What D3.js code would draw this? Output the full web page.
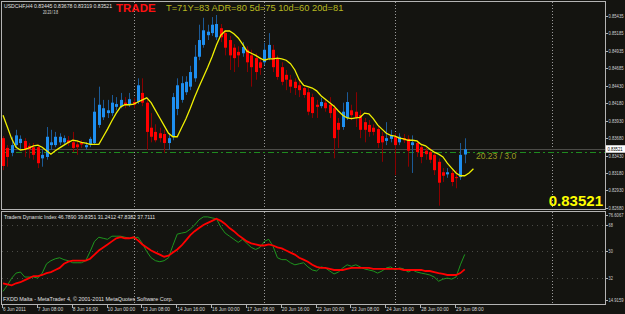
<!DOCTYPE html>
<html>
<head>
<meta charset="utf-8">
<script src="https://cdn.jsdelivr.net/npm/d3@7"></script>
<style>
  body { margin: 0; background: #141410; }
  svg { display: block; }
  text { font-family: "Liberation Sans", Arial, sans-serif; }
  text.small { font-family: "Liberation Sans Narrow", "Arial Narrow", "Liberation Sans", sans-serif; }
</style>
</head>
<body>
<svg width="625" height="314"></svg>
<script>
// USDCHF H4 candles, bar 0 = 6 Jun 2011 00:00
const opens = [0.8368,0.8354,0.8347,0.8358,0.8361,0.8364,0.8357,0.8355,0.8355,0.8339,
  0.8341,0.8358,0.8358,0.8362,0.8362,0.8365,0.8362,0.8359,0.8361,0.8355,
  0.8359,0.8361,0.8387,0.8398,0.8404,0.8404,0.8413,0.8414,0.8419,0.8417,
  0.8420,0.8420,0.8433,0.8419,0.8383,0.8377,0.8375,0.8374,0.8361,0.8370,
  0.8410,0.8423,0.8434,0.8442,0.8454,0.8485,0.8502,0.8516,0.8519,0.8513,
  0.8526,0.8519,0.8509,0.8498,0.8492,0.8490,0.8495,0.8487,0.8483,0.8477,
  0.8477,0.8483,0.8495,0.8483,0.8470,0.8459,0.8452,0.8449,0.8444,0.8440,
  0.8434,0.8427,0.8416,0.8414,0.8419,0.8416,0.8411,0.8390,0.8384,0.8397,
  0.8408,0.8406,0.8401,0.8391,0.8387,0.8383,0.8381,0.8371,0.8364,0.8367,
  0.8370,0.8362,0.8368,0.8367,0.8358,0.8361,0.8355,0.8350,0.8348,0.8344,
  0.8334,0.8319,0.8316,0.8318,0.8312,0.8312,0.83445];
const highs = [0.8371,0.8358,0.8370,0.8380,0.8372,0.8368,0.8361,0.8361,0.8359,0.8351,
  0.8384,0.8380,0.8377,0.8375,0.8372,0.8371,0.8377,0.8365,0.8365,0.8362,
  0.8370,0.8426,0.8442,0.8423,0.8423,0.8430,0.8427,0.8433,0.8427,0.8433,
  0.8426,0.8454,0.8454,0.8423,0.8404,0.8388,0.8383,0.8380,0.8375,0.8433,
  0.8454,0.8457,0.8457,0.8472,0.8502,0.8531,0.8541,0.8531,0.8542,0.8545,
  0.8532,0.8523,0.8515,0.8503,0.8500,0.8506,0.8500,0.8495,0.8490,0.8485,
  0.8505,0.8519,0.8502,0.8487,0.8477,0.8466,0.8459,0.8454,0.8452,0.8444,
  0.8440,0.8432,0.8423,0.8426,0.8423,0.8427,0.8416,0.8397,0.8419,0.8434,
  0.8416,0.8434,0.8408,0.8397,0.8394,0.8388,0.8386,0.8377,0.8391,0.8380,
  0.8375,0.8375,0.8374,0.8372,0.8372,0.8365,0.8359,0.8354,0.8354,0.8348,
  0.8339,0.8325,0.8325,0.8322,0.8322,0.8361,0.83678];
const lows = [0.8322,0.8327,0.8342,0.8354,0.8351,0.8341,0.8339,0.8337,0.8325,0.8327,
  0.8337,0.8351,0.8355,0.8358,0.8359,0.8357,0.8348,0.8344,0.8354,0.8351,
  0.8355,0.8358,0.8383,0.8394,0.8397,0.8400,0.8408,0.8411,0.8411,0.8413,
  0.8411,0.8417,0.8414,0.8351,0.8362,0.8362,0.8362,0.8347,0.8351,0.8365,
  0.8401,0.8419,0.8430,0.8437,0.8449,0.8480,0.8498,0.8509,0.8515,0.8509,
  0.8506,0.8487,0.8466,0.8463,0.8470,0.8485,0.8463,0.8442,0.8452,0.8459,
  0.8473,0.8480,0.8463,0.8452,0.8444,0.8437,0.8433,0.8430,0.8427,0.8426,
  0.8401,0.8397,0.8397,0.8411,0.8406,0.8397,0.8339,0.8354,0.8380,0.8394,
  0.8394,0.8384,0.8368,0.8362,0.8370,0.8372,0.8354,0.8334,0.8358,0.8362,
  0.8315,0.8358,0.8361,0.8327,0.8318,0.8341,0.8332,0.8337,0.8332,0.8315,
  0.8271,0.8305,0.8311,0.8299,0.8296,0.8308,0.83319];
const closes = [0.8328,0.8341,0.8358,0.8372,0.8367,0.8351,0.8352,0.8344,0.8332,0.8344,
  0.8370,0.8362,0.8370,0.8370,0.8368,0.8361,0.8354,0.8355,0.8359,0.8358,
  0.8367,0.8406,0.8416,0.8411,0.8408,0.8419,0.8417,0.8423,0.8416,0.8424,
  0.8416,0.8444,0.8419,0.8377,0.8370,0.8365,0.8368,0.8361,0.8368,0.8427,
  0.8444,0.8447,0.8449,0.8463,0.8485,0.8509,0.8523,0.8521,0.8531,0.8532,
  0.8513,0.8498,0.8487,0.8483,0.8487,0.8499,0.8477,0.8470,0.8463,0.8469,
  0.8495,0.8502,0.8470,0.8456,0.8449,0.8452,0.8442,0.8440,0.8437,0.8430,
  0.8406,0.8404,0.8413,0.8420,0.8411,0.8404,0.8368,0.8380,0.8406,0.8420,
  0.8401,0.8398,0.8380,0.8380,0.8377,0.8377,0.8361,0.8362,0.8368,0.8372,
  0.8358,0.8370,0.8365,0.8350,0.8362,0.8348,0.8341,0.8345,0.8337,0.8322,
  0.8304,0.8314,0.8319,0.8305,0.8311,0.8344,0.83521];

// yellow moving average, drawn 2 bars ahead (109 points)
const maLine = [0.8401,0.8384,0.8367,0.8355,0.8351,0.8352,0.8354,0.8357,0.8358,0.8355,
  0.8350,0.8345,0.8350,0.8354,0.8358,0.8362,0.8365,0.8364,0.8362,0.8361,
  0.8359,0.8359,0.8359,0.8370,0.8381,0.8393,0.8404,0.8413,0.8416,0.8416,
  0.8417,0.8420,0.8423,0.8426,0.8419,0.8408,0.8397,0.8386,0.8375,0.8370,
  0.8370,0.8383,0.8396,0.8411,0.8427,0.8442,0.8456,0.8470,0.8485,0.8502,
  0.8516,0.8522,0.8522,0.8518,0.8512,0.8503,0.8493,0.8490,0.8487,0.8483,
  0.8480,0.8482,0.8482,0.8483,0.8482,0.8480,0.8475,0.8466,0.8452,0.8444,
  0.8442,0.8440,0.8436,0.8429,0.8424,0.8419,0.8414,0.8407,0.8401,0.8397,
  0.8396,0.8397,0.8398,0.8404,0.8403,0.8396,0.8387,0.8381,0.8375,0.8372,
  0.8371,0.8368,0.8367,0.8365,0.8365,0.8364,0.8359,0.8357,0.8352,0.8348,
  0.8345,0.8341,0.8332,0.8325,0.8318,0.8314,0.8314,0.8318,0.8324];

// Traders Dynamic Index: RSI price line (green) and trade signal line (red)
const tdiGreen = [22.8,26.9,31.8,35.2,35.9,32.5,32.5,32.5,31.8,35.2,
  41.5,43.6,44.9,45.6,44.3,43.6,42.2,42.2,42.2,43.6,
  49.8,56.7,59.5,58.8,58.1,60.2,60.2,60.2,59.5,58.8,
  58.8,59.5,55.3,49.8,45.6,43.6,42.9,43.6,45.6,53.9,
  61.6,62.3,62.9,65.0,67.8,71.3,73.3,73.3,72.6,72.0,
  66.4,62.3,60.2,58.1,56.0,58.1,55.3,52.6,51.2,52.6,
  56.7,58.1,53.3,45.6,44.3,44.3,42.2,40.8,41.5,42.2,
  39.4,37.3,36.6,39.4,38.7,36.6,34.6,35.9,38.7,40.8,
  39.8,40.8,39.4,38.0,37.3,36.6,35.2,36.6,38.7,39.4,
  37.3,38.7,38.0,35.9,37.3,35.9,35.2,34.6,33.9,32.5,
  29.7,31.1,31.8,31.1,32.5,40.8,47.8382];
const tdiRed = [28.3,27.6,26.9,28.3,29.0,30.4,31.8,33.2,33.2,33.9,
  35.2,35.9,37.3,38.7,41.5,42.9,43.6,43.6,43.6,43.6,
  44.9,47.7,50.5,52.6,54.6,56.7,58.8,59.5,58.8,58.8,
  59.5,57.4,54.6,52.6,50.5,49.1,47.7,46.3,47.0,49.1,
  51.2,53.9,57.4,60.9,63.6,65.7,67.8,69.2,70.6,72.0,
  70.6,68.5,65.7,63.6,60.9,58.8,56.7,55.3,54.6,53.9,
  53.9,54.6,53.9,52.6,51.9,50.5,49.1,47.7,45.6,44.3,
  42.9,40.8,39.4,38.7,38.7,38.0,37.3,37.3,37.3,38.0,
  38.7,38.7,38.7,38.7,38.7,38.0,38.0,38.0,38.0,38.0,
  38.0,38.0,37.3,37.3,37.3,37.3,37.3,36.6,36.6,35.9,
  35.2,34.6,33.9,33.9,33.9,35.2,37.7111];

const priceTicks = [0.85435,0.85185,0.84935,0.84685,0.84430,0.84180,0.83930,0.83680,0.83430,0.83180,0.82930,0.82680];
const tdiTicks = [76.6067,68,50,32,14.9159];
const tdiLevels = [68,50,32];
const timeLabels = ["6 Jun 2011","7 Jun 08:00","8 Jun 16:00","10 Jun 00:00","13 Jun 08:00","14 Jun 16:00","16 Jun 00:00",
  "17 Jun 08:00","20 Jun 16:00","22 Jun 00:00","23 Jun 08:00","24 Jun 16:00","28 Jun 00:00","29 Jun 08:00"];
const timeBars = [0,8,16,24,32,40,48,56,64,72,80,88,96,104];
const weekBars = [30,60,90,126];   // week separators (last one is in the empty future area)
const bid = 0.83521;
const hLine = 0.83485;             // green dash-dot line object

const svg = d3.select('svg');
const width = +svg.attr('width');
const height = +svg.attr('height');
const frame = { left: 1.5, right: 605.5, top: 1.5, mainBottom: 209.5, subTop: 211.5, subBottom: 304.5 };

const xScale = d3.scaleLinear().domain([0, 140]).range([3, 3 + 140 * 4.356]);
const yScale = d3.scaleLinear().domain([0.82662, 0.85651]).range([209, 1]);
const tScale = d3.scaleLinear().domain([14.9159, 76.6067]).range([303, 212]);

svg.append('rect').attr('width', width).attr('height', height).attr('fill', '#141410');

const defs = svg.append('defs');
defs.append('clipPath').attr('id', 'clipMain').append('rect')
  .attr('x', 2).attr('y', 2).attr('width', 603).attr('height', 207);
defs.append('clipPath').attr('id', 'clipSub').append('rect')
  .attr('x', 2).attr('y', 212).attr('width', 603).attr('height', 92);

const px = i => Math.round(xScale(i)) + 0.5;

// small MT4-style text in a narrow face, pinned to a given width
const small = (g, x, y, str, len, size, fill) => g.append('text')
  .attr('class', 'small')
  .attr('x', x).attr('y', y).attr('font-size', size).attr('fill', fill || '#e0e0e0')
  .attr('textLength', len).attr('lengthAdjust', 'spacingAndGlyphs').text(str);

// week grid
const grid = svg.append('g').attr('stroke', '#9a9a9a').attr('stroke-dasharray', '1,2');
weekBars.forEach(b => {
  grid.append('line').attr('x1', px(b)).attr('x2', px(b)).attr('y1', 2).attr('y2', 209);
  grid.append('line').attr('x1', px(b)).attr('x2', px(b)).attr('y1', 212).attr('y2', 304);
});

const main = svg.append('g').attr('clip-path', 'url(#clipMain)');

// bid line + horizontal line object
main.append('line').attr('x1', 2).attr('x2', 605)
  .attr('y1', Math.round(yScale(bid)) + 0.5).attr('y2', Math.round(yScale(bid)) + 0.5)
  .attr('stroke', '#4c4c48');
main.append('line').attr('x1', 2).attr('x2', 605)
  .attr('y1', Math.round(yScale(hLine)) + 0.5).attr('y2', Math.round(yScale(hLine)) + 0.5)
  .attr('stroke', '#1f8a1f').attr('stroke-dasharray', '6,3,2,3');

const bars = d3.range(opens.length);

main.append('g').selectAll('line').data(bars).join('line')
  .attr('x1', i => px(i)).attr('x2', i => px(i))
  .attr('y1', i => yScale(highs[i])).attr('y2', i => yScale(lows[i]))
  .attr('stroke', i => closes[i] >= opens[i] ? '#1c5a96' : '#8a0000');

main.append('g').selectAll('rect').data(bars).join('rect')
  .attr('x', i => px(i) - 1.5)
  .attr('width', 3)
  .attr('y', i => yScale(Math.max(opens[i], closes[i])))
  .attr('height', i => Math.max(1, Math.abs(yScale(opens[i]) - yScale(closes[i]))))
  .attr('fill', i => closes[i] >= opens[i] ? '#1e8ff0' : '#ff0000');

main.append('path').datum(maLine)
  .attr('fill', 'none').attr('stroke', '#f0f000').attr('stroke-width', 1.3)
  .attr('d', d3.line().x((d, i) => xScale(i)).y(d => yScale(d)));

// indicator window
const sub = svg.append('g').attr('clip-path', 'url(#clipSub)');
tdiLevels.forEach(v => {
  sub.append('line').attr('x1', 2).attr('x2', 605)
    .attr('y1', Math.round(tScale(v)) + 0.5).attr('y2', Math.round(tScale(v)) + 0.5)
    .attr('stroke', '#4a4a46').attr('stroke-dasharray', '1,4');
});
sub.append('path').datum(tdiGreen)
  .attr('fill', 'none').attr('stroke', '#1e961e').attr('stroke-width', 1)
  .attr('d', d3.line().x((d, i) => xScale(i)).y(d => tScale(d)));
sub.append('path').datum(tdiRed)
  .attr('fill', 'none').attr('stroke', '#ff0000').attr('stroke-width', 1.8)
  .attr('d', d3.line().x((d, i) => xScale(i)).y(d => tScale(d)));

// frames
const frames = svg.append('g').attr('fill', 'none').attr('stroke', '#b4b4b4');
frames.append('rect').attr('x', frame.left).attr('y', frame.top)
  .attr('width', frame.right - frame.left).attr('height', frame.mainBottom - frame.top);
frames.append('rect').attr('x', frame.left).attr('y', frame.subTop)
  .attr('width', frame.right - frame.left).attr('height', frame.subBottom - frame.subTop);

// right price axis
const axis = svg.append('g');
priceTicks.forEach(v => {
  const yy = yScale(v);
  axis.append('line').attr('x1', 605).attr('x2', 608).attr('y1', Math.round(yy) + 0.5).attr('y2', Math.round(yy) + 0.5)
    .attr('stroke', '#b4b4b4');
  small(axis, 608.5, yy + 2, v.toFixed(5), 15, 5.1, '#d0d0d0');
});
const by = yScale(bid);
axis.append('rect').attr('x', 606).attr('y', by - 4).attr('width', 19).attr('height', 7.5).attr('fill', '#ffffff');
small(axis, 607.5, by + 2, bid.toFixed(5), 15, 5.1, '#000000');

tdiTicks.forEach(v => {
  const yy = Math.max(215, Math.min(300, tScale(v)));
  axis.append('line').attr('x1', 605).attr('x2', 608).attr('y1', Math.round(yy) + 0.5).attr('y2', Math.round(yy) + 0.5)
    .attr('stroke', '#b4b4b4');
  const s = Number.isInteger(v) ? String(v) : v.toFixed(4);
  small(axis, 608.5, yy + 2, s, s.length * 2.15, 5.1, '#d0d0d0');
});

// time axis
timeBars.forEach((b, k) => {
  axis.append('line').attr('x1', px(b) - 1).attr('x2', px(b) - 1).attr('y1', 305).attr('y2', 308)
    .attr('stroke', '#b4b4b4');
  small(axis, xScale(b), 311, timeLabels[k], timeLabels[k].length * 2.3, 5.4, '#d8d8d8');
});

// labels
small(svg, 4, 8, 'USDCHF,H4  0.83445 0.83678 0.83319 0.83521', 108, 5.6);
small(svg, 43, 13.5, '20.23 / 3.8', 15, 5.2);
svg.append('text').attr('x', 116).attr('y', 12).attr('font-size', 11.5).attr('font-weight', 'bold').attr('fill', '#ff1010')
  .text('TRADE');
svg.append('text').attr('x', 166).attr('y', 10.5).attr('font-size', 9.3).attr('fill', '#b8b820')
  .text('T=71Y=83  ADR=80  5d=75  10d=60  20d=81');
svg.append('text').attr('x', 476).attr('y', 158.5).attr('font-size', 8.5).attr('fill', '#9c9c22')
  .text('20.23 / 3.0');
svg.append('text').attr('x', 603).attr('y', 206).attr('text-anchor', 'end')
  .attr('font-size', 15).attr('font-weight', 'bold').attr('fill', '#ffff00')
  .text(bid.toFixed(5));
small(svg, 4, 219, 'Traders Dynamic Index 46.7890 39.8351 31.2412 47.8382 37.7111', 151, 6);
small(svg, 3, 301, 'FXDD Malta - MetaTrader 4, \u00a9 2001-2011 MetaQuotes Software Corp.', 170, 6);
</script>
</body>
</html>
